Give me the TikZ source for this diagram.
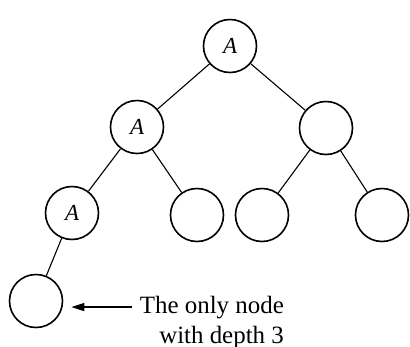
\documentclass[tikz,border=0pt]{standalone}
\usepackage{fontspec}
\setmainfont{Liberation Serif}
\usetikzlibrary{arrows.meta}

\begin{document}
\begin{tikzpicture}[x=1bp,y=-1bp,>={Triangle[length=13bp,width=8bp]},
  tnode/.style={circle,draw,line width=1.6bp,minimum size=53bp,inner sep=0pt,font=\fontsize{23}{23}\selectfont\itshape},
  tedge/.style={line width=1.1bp},
  note/.style={anchor=base east,inner sep=2bp,font=\fontsize{25}{30}\selectfont}]
  \useasboundingbox (0,0) rectangle (410,347);
  % the tree, depth 0 to depth 3
  \node[tnode] (root) at (230,46) {A};
  \node[tnode] (l1) at (137,127) {A};
  \node[tnode] (r1) at (326,128) {};
  \node[tnode] (ll) at (72,213) {A};
  \node[tnode] (lr) at (197,215) {};
  \node[tnode] (rl) at (262,215) {};
  \node[tnode] (rr) at (382,215) {};
  \node[tnode] (d3) at (36,301) {};
  \draw[tedge] (root) -- (l1);
  \draw[tedge] (root) -- (r1);
  \draw[tedge] (l1) -- (ll);
  \draw[tedge] (l1) -- (lr);
  \draw[tedge] (r1) -- (rl);
  \draw[tedge] (r1) -- (rr);
  \draw[tedge] (ll) -- (d3);
  % note on the deepest node
  \node[note] (only) at (286,313) {The only node};
  \node[note] (depth) at (286,343) {with depth 3};
  \draw[->,line width=1.4bp,shorten <=6bp,shorten >=8bp] (only.west) -- (only.west -| d3.east);
\end{tikzpicture}
\end{document}
